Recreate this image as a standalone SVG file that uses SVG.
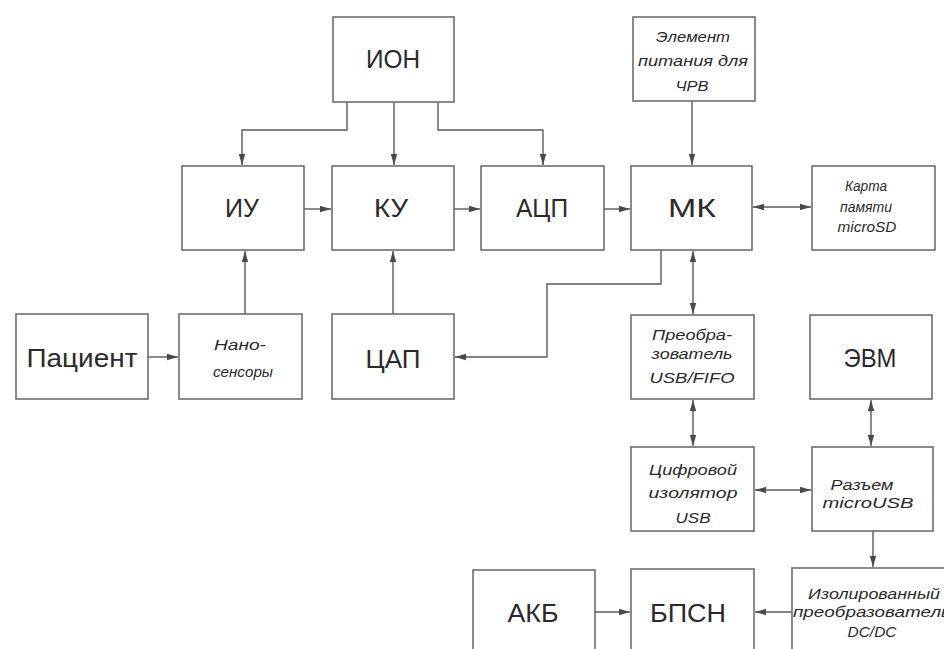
<svg xmlns="http://www.w3.org/2000/svg" width="944" height="649" viewBox="0 0 944 649">
<style>
.box{fill:#fff;stroke:#6e6e6e;stroke-width:1.6}
.big{font-family:"Liberation Sans",Arial,sans-serif;font-size:25px;fill:#2a2a2a;text-anchor:middle}
.sm{font-family:"Liberation Sans",Arial,sans-serif;font-size:15px;font-style:italic;fill:#2a2a2a;text-anchor:middle}
.c{fill:none;stroke:#5a5a5a;stroke-width:1.4}
</style>
<defs>
<marker id="ah" markerUnits="userSpaceOnUse" markerWidth="12" markerHeight="8" refX="11" refY="4" orient="auto">
<path d="M0,0.8 L11,4 L0,7.2 z" fill="#4a4a4a"/>
</marker>
<marker id="as" markerUnits="userSpaceOnUse" markerWidth="12" markerHeight="8" refX="1" refY="4" orient="auto">
<path d="M12,0.8 L1,4 L12,7.2 z" fill="#4a4a4a"/>
</marker>
</defs>
<rect width="944" height="649" fill="#fff"/>
<g id="connectors">
<path class="c" d="M347,102 V130 H242 V165" marker-end="url(#ah)"/>
<path class="c" d="M394,102 V165" marker-end="url(#ah)"/>
<path class="c" d="M438,102 V130 H543 V165" marker-end="url(#ah)"/>
<path class="c" d="M304,209 H331" marker-end="url(#ah)"/>
<path class="c" d="M454,209 H480" marker-end="url(#ah)"/>
<path class="c" d="M604,209 H630" marker-end="url(#ah)"/>
<path class="c" d="M692,101 V165" marker-end="url(#ah)"/>
<path class="c" d="M753,207 H811" marker-start="url(#as)" marker-end="url(#ah)"/>
<path class="c" d="M245,314 V251" marker-end="url(#ah)"/>
<path class="c" d="M393,314 V251" marker-end="url(#ah)"/>
<path class="c" d="M148,357 H178" marker-end="url(#ah)"/>
<path class="c" d="M661,250 V284 H547 V357 H455" marker-end="url(#ah)"/>
<path class="c" d="M693,251 V314" marker-start="url(#as)" marker-end="url(#ah)"/>
<path class="c" d="M693,400 V446" marker-start="url(#as)" marker-end="url(#ah)"/>
<path class="c" d="M871,400 V446" marker-start="url(#as)" marker-end="url(#ah)"/>
<path class="c" d="M755,490 H811" marker-start="url(#as)" marker-end="url(#ah)"/>
<path class="c" d="M873,531 V567" marker-end="url(#ah)"/>
<path class="c" d="M792,612 H755" marker-end="url(#ah)"/>
<path class="c" d="M595,612 H630" marker-end="url(#ah)"/>
</g>
<g id="ion"><rect class="box" x="333" y="17" width="121" height="85"/><text class="big" x="393" y="68" font-size="27" textLength="54" lengthAdjust="spacingAndGlyphs">ИОН</text></g>
<g id="elem"><rect class="box" x="633" y="17" width="122" height="84"/>
<text class="sm" x="693" y="42" textLength="74" lengthAdjust="spacingAndGlyphs">Элемент</text>
<text class="sm" x="693" y="66" textLength="110" lengthAdjust="spacingAndGlyphs">питания для</text>
<text class="sm" x="692" y="91" textLength="33" lengthAdjust="spacingAndGlyphs">ЧРВ</text></g>
<g id="iu"><rect class="box" x="182" y="166" width="122" height="84"/><text class="big" x="242" y="217" textLength="34" lengthAdjust="spacingAndGlyphs">ИУ</text></g>
<g id="ku"><rect class="box" x="332" y="166" width="122" height="84"/><text class="big" x="391" y="217" textLength="34" lengthAdjust="spacingAndGlyphs">КУ</text></g>
<g id="acp"><rect class="box" x="481" y="166" width="123" height="84"/><text class="big" x="542" y="217" textLength="52" lengthAdjust="spacingAndGlyphs">АЦП</text></g>
<g id="mk"><rect class="box" x="631" y="166" width="121" height="84"/><text class="big" x="692" y="217" textLength="48" lengthAdjust="spacingAndGlyphs">МК</text></g>
<g id="karta"><rect class="box" x="812" y="166" width="123" height="84"/>
<text class="sm" x="866" y="191" textLength="42" lengthAdjust="spacingAndGlyphs">Карта</text>
<text class="sm" x="866" y="212" textLength="52" lengthAdjust="spacingAndGlyphs">памяти</text>
<text class="sm" x="867" y="232" textLength="59" lengthAdjust="spacingAndGlyphs">microSD</text></g>
<g id="pacient"><rect class="box" x="16" y="314" width="132" height="85"/><text class="big" x="82" y="367" font-size="27" textLength="111" lengthAdjust="spacingAndGlyphs">Пациент</text></g>
<g id="nano"><rect class="box" x="179" y="314" width="123" height="85"/>
<text class="sm" x="240" y="350" textLength="52" lengthAdjust="spacingAndGlyphs">Нано-</text>
<text class="sm" x="243" y="377" textLength="60" lengthAdjust="spacingAndGlyphs">сенсоры</text></g>
<g id="cap"><rect class="box" x="332" y="314" width="122" height="85"/><text class="big" x="393" y="368" textLength="55" lengthAdjust="spacingAndGlyphs">ЦАП</text></g>
<g id="preob"><rect class="box" x="631" y="315" width="123" height="84"/>
<text class="sm" x="692" y="340" textLength="80" lengthAdjust="spacingAndGlyphs">Преобра-</text>
<text class="sm" x="692" y="359" textLength="81" lengthAdjust="spacingAndGlyphs">зователь</text>
<text class="sm" x="692" y="383" textLength="85" lengthAdjust="spacingAndGlyphs">USB/FIFO</text></g>
<g id="evm"><rect class="box" x="810" y="315" width="122" height="84"/><text class="big" x="870" y="367" textLength="53" lengthAdjust="spacingAndGlyphs">ЭВМ</text></g>
<g id="cifr"><rect class="box" x="631" y="447" width="123" height="84"/>
<text class="sm" x="693" y="475" textLength="88" lengthAdjust="spacingAndGlyphs">Цифровой</text>
<text class="sm" x="693" y="498" textLength="89" lengthAdjust="spacingAndGlyphs">изолятор</text>
<text class="sm" x="693" y="523" textLength="35" lengthAdjust="spacingAndGlyphs">USB</text></g>
<g id="razem"><rect class="box" x="812" y="447" width="121" height="84"/>
<text class="sm" x="862" y="490" textLength="63" lengthAdjust="spacingAndGlyphs">Разъем</text>
<text class="sm" x="868" y="508" textLength="91" lengthAdjust="spacingAndGlyphs">microUSB</text></g>
<g id="izol"><rect class="box" x="792" y="568" width="170" height="120"/>
<text class="sm" x="874" y="599" textLength="132" lengthAdjust="spacingAndGlyphs">Изолированный</text>
<text class="sm" x="872" y="617" textLength="158" lengthAdjust="spacingAndGlyphs">преобразователь</text>
<text class="sm" x="872" y="637" textLength="49" lengthAdjust="spacingAndGlyphs">DC/DC</text></g>
<g id="bpsn"><rect class="box" x="631" y="569" width="123" height="120"/><text class="big" x="688" y="622" textLength="76" lengthAdjust="spacingAndGlyphs">БПСН</text></g>
<g id="akb"><rect class="box" x="473" y="570" width="122" height="120"/><text class="big" x="533" y="622" textLength="51" lengthAdjust="spacingAndGlyphs">АКБ</text></g>
</svg>
